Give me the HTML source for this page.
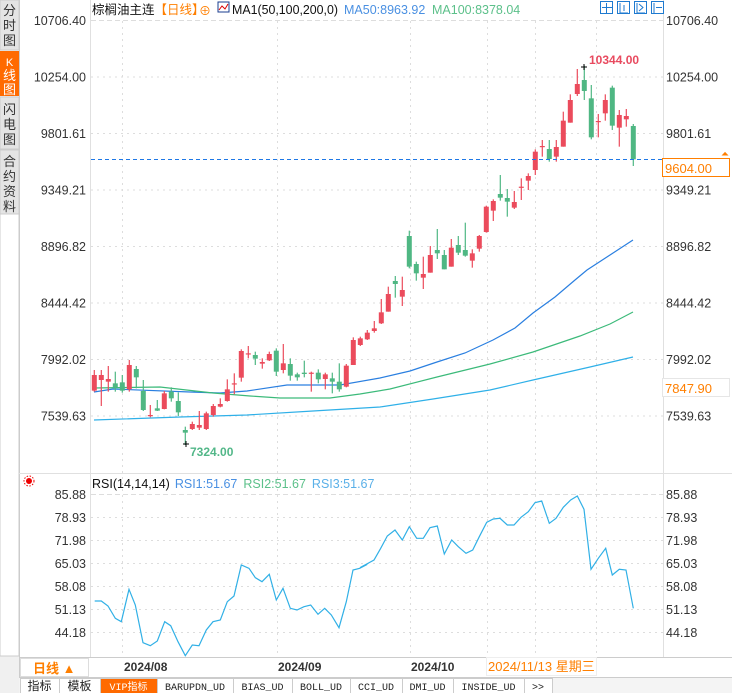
<!DOCTYPE html>
<html><head><meta charset="utf-8"><style>
body{margin:0;width:732px;height:693px;overflow:hidden;background:#fff;font-family:"Liberation Sans","Noto Sans CJK SC",sans-serif;}
svg{position:absolute;left:0;top:0}
</style></head><body>
<svg id="s" width="732" height="693" xmlns="http://www.w3.org/2000/svg" font-family="Liberation Sans, Noto Sans CJK SC, sans-serif">
<rect x="0" y="0" width="19" height="693" fill="#f0f0f0"/>
<rect x="0" y="0" width="19" height="50" fill="#e4e4e4" stroke="#ccc"/>
<rect x="0" y="51" width="19" height="45" fill="#ff6a00"/>
<rect x="0" y="97" width="19" height="52" fill="#e4e4e4" stroke="#ccc"/>
<rect x="0" y="150" width="19" height="64" fill="#e4e4e4" stroke="#ccc"/>
<rect x="0" y="214" width="19" height="442" fill="#fff" stroke="#ccc"/>
<g font-size="13" fill="#333" text-anchor="middle">
<text x="9.5" y="15">分</text><text x="9.5" y="30">时</text><text x="9.5" y="45">图</text>
<text x="9.5" y="66" fill="#fff" font-size="11">K</text><text x="9.5" y="80" fill="#fff">线</text><text x="9.5" y="94" fill="#fff">图</text>
<text x="9.5" y="114">闪</text><text x="9.5" y="129">电</text><text x="9.5" y="144">图</text>
<text x="9.5" y="166">合</text><text x="9.5" y="181">约</text><text x="9.5" y="196">资</text><text x="9.5" y="211">料</text>
</g>
<line x1="19.5" y1="0" x2="19.5" y2="677" stroke="#ccc"/>
<line x1="90.5" y1="0" x2="90.5" y2="657" stroke="#e0e0e0"/>
<line x1="663.5" y1="0" x2="663.5" y2="657" stroke="#e0e0e0"/>
<line x1="19" y1="473.5" x2="732" y2="473.5" stroke="#e0e0e0"/>
<g id="grid" stroke="#ddd" stroke-dasharray="2,4"></g>
<line x1="91" y1="20.5" x2="663" y2="20.5" stroke="#ddd" stroke-dasharray="5,3"/>
<line x1="91" y1="494.5" x2="663" y2="494.5" stroke="#ddd" stroke-dasharray="5,3"/>
<g id="axes" font-size="12.5" fill="#333"></g>
<g id="ma" fill="none" stroke-width="1.2"></g>
<g id="cd"></g>
<line x1="91" y1="159.5" x2="663" y2="159.5" stroke="#1e78e6" stroke-dasharray="4,3"/>
<rect x="662.5" y="158.5" width="67" height="18" fill="#fff" stroke="#ff7f00"/>
<text x="665" y="173" font-size="13" fill="#ff7f00">9604.00</text>
<text x="721" y="157" font-size="10" fill="#ff7f00">⏶</text>
<rect x="662.5" y="378.5" width="67" height="18" fill="#fff" stroke="#e6e6e6"/>
<text x="665" y="393" font-size="13" fill="#ff7f00">7847.90</text>
<text x="589" y="64" font-size="12" font-weight="bold" fill="#e84a5f">10344.00</text>
<text x="190" y="456" font-size="12" font-weight="bold" fill="#52b788">7324.00</text>
<path d="M581 67h6M584 64v6M183 444h6M186 441v6" stroke="#000"/>
<text x="92" y="14" font-size="12.5"><tspan fill="#111">棕榈油主连</tspan><tspan fill="#ff7f00">【日线】</tspan></text>
<text x="199" y="15" font-size="12" fill="#ff7f00">⊕</text>
<rect x="218" y="2" width="11" height="10" fill="#fff" stroke="#1a3d8f"/><path d="M219 10l3-4 3 3 3-5" stroke="#d00" fill="none"/>
<text x="232" y="14" font-size="12.5" fill="#111" textLength="106" lengthAdjust="spacingAndGlyphs">MA1(50,100,200,0)</text>
<text x="344" y="14" font-size="12.5" fill="#4a90e2">MA50:8963.92</text>
<text x="432" y="14" font-size="12.5" fill="#5cc08a">MA100:8378.04</text>
<g stroke="#1e7ad0" fill="none">
<rect x="600.5" y="1.5" width="12" height="12"/><rect x="617.5" y="1.5" width="12" height="12"/><rect x="634.5" y="1.5" width="12" height="12"/><rect x="651.5" y="1.5" width="12" height="12"/>
<path d="M606.5 3v10M602 7.5h10M620 3v10h8M624 5v6M637 3v10h8M639 4l4 3.5-4 3.5M654 3v10M656 7.5h6"/>
</g>
<circle cx="29" cy="481" r="3" fill="#e00"/><circle cx="29" cy="481" r="5" fill="none" stroke="#e00" stroke-dasharray="1.5,1.5"/>
<text x="92" y="488" font-size="12.5"><tspan fill="#111">RSI(14,14,14)</tspan><tspan dx="5" fill="#4a90e2">RSI1:51.67</tspan><tspan dx="6" fill="#5cc08a">RSI2:51.67</tspan><tspan dx="6" fill="#5ab0e8">RSI3:51.67</tspan></text>
<polyline id="rsi" fill="none" stroke="#31b0e6" stroke-width="1.2"/>
<line x1="19" y1="657.5" x2="732" y2="657.5" stroke="#ccc"/>
<rect x="20.5" y="658.5" width="68" height="18" fill="#fff" stroke="#ddd"/>
<text x="33" y="673" font-size="13" font-weight="bold" fill="#ff7f00">日线 ▲</text>
<g font-size="12" font-weight="bold" fill="#333"><text x="124" y="671">2024/08</text><text x="278" y="671">2024/09</text><text x="411" y="671">2024/10</text></g>
<rect x="486.5" y="657.5" width="110" height="18" fill="#fff" stroke="#eee"/>
<text x="488" y="671" font-size="13" fill="#ff7f00">2024/11/13 星期三</text>
<rect x="19" y="677" width="713" height="16" fill="#f4f4f4"/>
<line x1="19" y1="677.5" x2="732" y2="677.5" stroke="#ccc"/>
<g id="tabs" font-size="12"></g>
</svg>
<script>
const NS="http://www.w3.org/2000/svg";
function el(p,t,a,txt){const e=document.createElementNS(NS,t);for(const k in a)e.setAttribute(k,a[k]);if(txt!==undefined)e.textContent=txt;document.getElementById(p).appendChild(e);return e;}
const L=["10706.40","10254.00","9801.61","9349.21","8896.82","8444.42","7992.02","7539.63"];
L.forEach((t,i)=>{const y=20+i*56.5;if(i>0)el("grid","line",{x1:91,x2:663,y1:y+.5,y2:y+.5});
el("axes","text",{x:86,y:y+5,"text-anchor":"end"},t);el("axes","text",{x:666,y:y+5},t);});
const R=["85.88","78.93","71.98","65.03","58.08","51.13","44.18"];
R.forEach((t,i)=>{const y=494+i*23;if(i>0)el("grid","line",{x1:91,x2:663,y1:y+.5,y2:y+.5});
el("axes","text",{x:86,y:y+5,"text-anchor":"end"},t);el("axes","text",{x:666,y:y+5},t);});
[122,277,410,487,535,596].forEach(x=>el("grid","line",{x1:x+.5,x2:x+.5,y1:21,y2:657}));
const ma=[["#2a7fe0",[[94,392],[113,389],[190,392],[220,393],[247,391],[287,385],[340,385],[380,378],[410,371],[437,362],[465,353],[493,340],[515,328],[533,313],[555,297],[575,280],[587,270],[610,255],[633,240]]],
["#3cba7a",[[94,388],[160,387],[213,393],[250,396],[280,398],[330,398],[360,394],[390,389],[437,377],[490,364],[533,352],[580,336],[610,324],[633,312]]],
["#2fb0e8",[[94,420],[180,417],[247,415],[313,411],[380,407],[433,399],[490,390],[533,380],[590,367],[633,357]]]];
ma.forEach(m=>el("ma","polyline",{stroke:m[0],points:m[1].map(p=>p.join(",")).join(" ")}));
const A=[["r",135,182,120,185],["r",135,150,120,228],["r",147,155,108,185],["g",160,172,125,185],["g",157,182,135,188],["r",105,178,90,185],["g",117,142,108,175],["g",183,240,150,243],["r",255,258,225,262],["g",235,242,210,243],["r",190,237,183,238],["g",185,205,172,215],["g",213,247,187,258],["g",300,308,290,345],["r",282,297,275,300],["r",285,293,243,300],["r",250,297,245,300],["r",228,255,222,260],["r",222,230,205,232],["r",178,213,148,215],["r",160,163,130,193],["r",63,143,58,155],["r",70,72,48,85],["g",75,86,65,105],["r",96,101,85,116],["r",72,91,65,93],["g",62,125,55,138],["r",100,120,42,130],["g",102,137,85,152],["g",133,142,128,152],["g",128,132,92,142],["r",128,130,125,185],["g",128,148,118,160],["r",133,147,128,178],["g",145,155,128,190],["g",155,178,100,185],["r",107,170,102,172],["r",30,105,22,105],["r",25,45,20,48],["r",8,28,0,30]];
const B=[["r",505,513,483,518],["r",457,490,417,492],["r",402,455,380,455],["g",363,372,348,413],["r",390,410,350,438],["g",228,320,212,325],["g",312,340,305,362],["r",342,353,290,387],["r",285,338,258,338],["g",270,280,207,297],["g",285,328,270,328],["r",263,320,237,320],["g",255,278,228,285],["g",270,287,188,290],["r",280,302,268,323],["r",228,266,225,275],["r",140,216,137,218],["r",123,152,118,183],["g",102,113,45,122],["g",114,125,87,170],["r",126,143,93,147],["r",80,83,55,120],["r",48,62,40,90]];
const C=[["r",455,510,448,525],["r",438,441,420,470],["g",447,477,420,485],["r",441,470,420,485],["r",362,440,335,440],["r",300,368,283,368],["r",252,282,207,288],["g",240,273,197,300],["g",295,412,255,418],["r",363,366,342,412],["r",300,340,283,362],["g",263,377,257,390],["r",345,383,330,440],["r",348,358,327,380],["g",378,478,372,498]];
const all=[];A.forEach(c=>all.push([c[0],...c.slice(1).map(v=>330+v/3)]));B.forEach(c=>all.push([c[0],...c.slice(1).map(v=>160+v/3)]));C.forEach(c=>all.push([c[0],...c.slice(1).map(v=>v/3)]));
all.forEach((c,i)=>{const x=94.3+7*i,col=c[0]=="r"?"#eb4b5c":"#4fb783";
el("cd","line",{x1:x,x2:x,y1:c[3],y2:c[4],stroke:col,"stroke-width":1.2});
el("cd","rect",{x:x-2.5,y:c[1],width:5,height:Math.max(1.2,c[2]-c[1]),fill:col});});
const r1=[[20,363],[40,363],[60,378],[82,415],[100,425],[123,328],[142,375],[165,488],[187,497],[208,483],[230,425],[248,437],[270,485],[292,527],[313,495],[333,497],[355,450],[375,425],[397,420],[418,365],[438,348],[460,255],[483,265],[502,293],[522,305],[544,283],[565,360],[585,325],[607,385],[627,390],[648,380],[668,375],[690,403],[710,385],[730,405],[753,443],[775,365],[795,270],[815,265],[838,253]].map(p=>[88+p[0]/3,480+p[1]/3]);
const r2=[[0,263],[20,252],[42,240],[62,205],[82,168],[105,150],[127,180],[148,140],[170,175],[190,175],[210,143],[232,138],[253,222],[275,180],[295,200],[318,220],[338,210],[358,170],[380,127],[400,117],[420,115],[442,135],[462,135],[483,112],[505,95],[525,68],[545,63],[568,130],[588,115],[610,82],[632,60],[652,48],[672,88],[693,268],[715,235],[737,205],[757,285],[778,268],[798,270],[820,385]].map(p=>[360+p[0]/3,480+p[1]/3]);
document.getElementById("rsi").setAttribute("points",r1.concat(r2).map(p=>p[0].toFixed(1)+","+p[1].toFixed(1)).join(" "));
const T=[["指标",20,59],["模板",59,100],["VIP指标",100,157],["BARUPDN_UD",157,233],["BIAS_UD",233,292],["BOLL_UD",292,350],["CCI_UD",350,402],["DMI_UD",402,453],["INSIDE_UD",453,524],[">>",524,552]];
T.forEach(t=>{const v=t[0]=="VIP指标";el("tabs","rect",{x:t[1]+.5,y:678.5,width:t[2]-t[1],height:15,fill:v?"#ff6a00":"#fff",stroke:"#ccc"});
el("tabs","text",{x:(t[1]+t[2])/2,y:690,"text-anchor":"middle",fill:v?"#fff":"#222","font-size":/^[A-Z>]/.test(t[0])?10:12,"font-family":/^[A-Z>]/.test(t[0])?"Liberation Mono, monospace":"Liberation Sans, Noto Sans CJK SC, sans-serif"},t[0]);});
</script>
</body></html>
